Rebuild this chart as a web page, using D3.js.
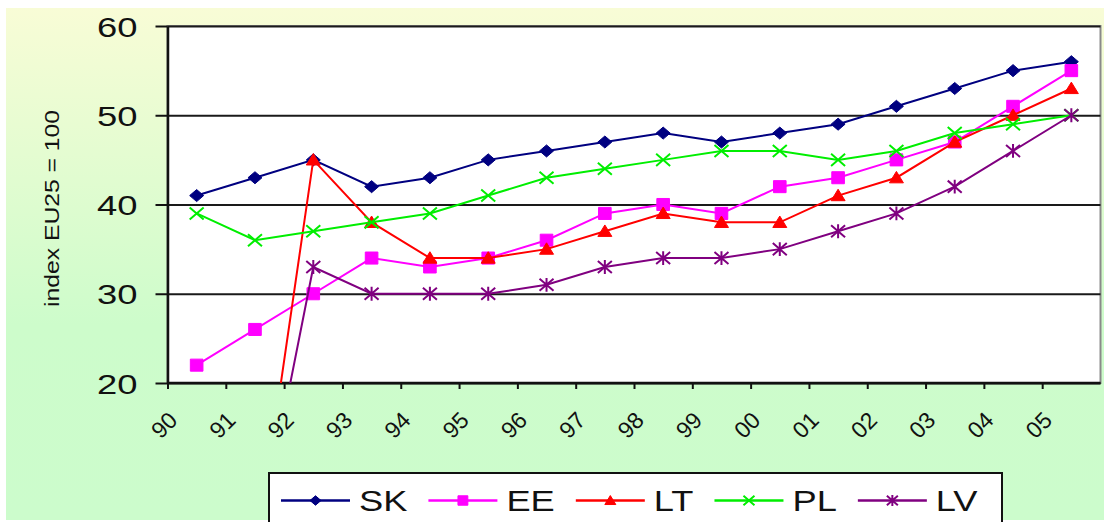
<!DOCTYPE html>
<html><head><meta charset="utf-8">
<script src="https://cdn.jsdelivr.net/npm/d3@7"></script>
<style>
body{margin:0;background:#fff;}
svg{display:block;font-family:"Liberation Sans",Arial,sans-serif;}
</style>
</head><body>
<svg id="c" width="1104" height="522"></svg>
<script>
// ---- data ----
const years = ["90","91","92","93","94","95","96","97","98","99","00","01","02","03","04","05"];
const SK = [41,43,45,42,43,45,46,47,48,47,48,49,51,53,55,56];
const EE = [22,26,30,34,33,34,36,39,40,39,42,43,45,47,51,55];
const LT = [0,0,45,38,34,34,35,37,39,38,38,41,43,47,50,53];
const PL = [39,36,37,38,39,41,43,44,45,46,46,45,46,48,49,50];
const LV = [0,0,33,30,30,30,31,33,34,34,35,37,39,42,46,50];
const seriesNames = ["SK","EE","LT","PL","LV"];
const seriesValues = [SK,EE,LT,PL,LV];
const seriesColors = ["#000080","#ff00ff","#ff0000","#00ee00","#800080"];
const seriesMarkers = ["diamond","square","triangle","cross","star"];
const yTicks = [20,30,40,50,60];
const yDomain = [20,60];
const yTitle = "index EU25 = 100";

// ---- layout ----
const svg = d3.select("#c");
const m = {left:167.5, right:1100.5, top:26, bottom:383};
const x = d3.scaleBand().domain(years).range([m.left, m.right]).padding(0);
const bw = x.bandwidth();
const xt = d3.scalePoint().domain(years).range([m.left, m.left + bw*(years.length-1)]);
const y = d3.scaleLinear().domain(yDomain).range([m.bottom, m.top]);

const defs = svg.append("defs");
const grad = defs.append("linearGradient").attr("id","bg").attr("x1",0).attr("y1",0).attr("x2",0).attr("y2",1);
grad.append("stop").attr("offset","0").attr("stop-color","#f8fcd6");
grad.append("stop").attr("offset","0.62").attr("stop-color","#cdfccb");
grad.append("stop").attr("offset","1").attr("stop-color","#ccfccc");
defs.append("clipPath").attr("id","clip").append("rect")
  .attr("x", m.left).attr("y", m.top).attr("width", m.right-m.left).attr("height", m.bottom-m.top);

svg.append("rect").attr("x",6).attr("y",8).attr("width",1098).attr("height",512).attr("fill","url(#bg)");

// plot area
svg.append("rect").attr("x",m.left).attr("y",m.top).attr("width",m.right-m.left).attr("height",m.bottom-m.top)
  .attr("fill","#fff").attr("stroke","#8a8a8a").attr("stroke-width",2);

// gridlines
const grid = svg.append("g").attr("transform",`translate(${m.left},0)`)
  .call(d3.axisLeft(y).tickValues(yTicks).tickSize(-(m.right-m.left)).tickFormat(""));
grid.select(".domain").remove();
grid.selectAll("line").attr("stroke","#1a1a1a").attr("stroke-width",2);

// y axis
const ya = svg.append("g").attr("transform",`translate(${m.left},0)`)
  .call(d3.axisLeft(y).tickValues(yTicks).tickSize(12).tickSizeOuter(0));
ya.select(".domain").attr("stroke","#111").attr("stroke-width",2.5);
ya.selectAll(".tick line").attr("stroke","#111").attr("stroke-width",2);
ya.selectAll(".tick text").attr("x",0).attr("dy","0.36em")
  .attr("transform","translate(-30,0) scale(1.3,1)")
  .attr("font-size",28).attr("fill","#111").attr("text-anchor","end")
  .style("font-family","'Liberation Sans',Arial,sans-serif");

// x axis
const xa = svg.append("g").attr("transform",`translate(0,${m.bottom})`)
  .call(d3.axisBottom(xt).tickSize(6).tickSizeOuter(0));
xa.select(".domain").remove();
xa.selectAll(".tick line").attr("stroke","#111").attr("stroke-width",2);
xa.selectAll(".tick text").attr("x",0).attr("y",0).attr("dy","0.35em")
  .attr("text-anchor","middle")
  .attr("transform","translate(-4,42) rotate(-45)")
  .attr("font-size",23).attr("fill","#111")
  .style("font-family","'Liberation Sans',Arial,sans-serif");
svg.append("line").attr("x1",m.left).attr("x2",m.right).attr("y1",m.bottom).attr("y2",m.bottom)
  .attr("stroke","#111").attr("stroke-width",2.5);

// y title
svg.append("text").attr("transform","translate(51,208.5) rotate(-90)")
  .attr("text-anchor","middle").attr("dominant-baseline","central")
  .attr("font-size",21).attr("fill","#111")
  .attr("textLength",197).attr("lengthAdjust","spacingAndGlyphs")
  .text(yTitle);

// markers
function markerPath(type, s){
  const a = s, b = s*0.86;
  switch(type){
    case "diamond": return `M0,${-b}L${a},0L0,${b}L${-a},0Z`;
    case "square": return `M${-a*0.9},${-b}H${a*0.9}V${b}H${-a*0.9}Z`;
    case "triangle": return `M0,${-b*1.05}L${a},${b*0.85}L${-a},${b*0.85}Z`;
    case "cross": return `M${-a},${-b}L${a},${b}M${-a},${b}L${a},${-b}`;
    case "star": return `M${-a},${-b}L${a},${b}M${-a},${b}L${a},${-b}M0,${-b*1.15}L0,${b*1.15}`;
  }
}
const filled = t => t==="diamond"||t==="square"||t==="triangle";

const line = d3.line().x((d,i)=>x(years[i])+bw/2).y(d=>y(d));
const plot = svg.append("g").attr("clip-path","url(#clip)");
seriesValues.forEach((vals,si)=>{
  const g = plot.append("g");
  const c = seriesColors[si], t = seriesMarkers[si];
  g.append("path").datum(vals).attr("d",line).attr("fill","none")
    .attr("stroke",c).attr("stroke-width",2);
  g.selectAll("path.mk").data(vals).join("path").attr("class","mk")
    .attr("transform",(d,i)=>`translate(${x(years[i])+bw/2},${y(d)})`)
    .attr("d",markerPath(t,7))
    .attr("fill",filled(t)?c:"none").attr("stroke",c).attr("stroke-width",filled(t)?1:2);
});

// legend
const lg = svg.append("g");
lg.append("rect").attr("x",269).attr("y",473).attr("width",733).attr("height",70)
  .attr("fill","#fff").attr("stroke","#111").attr("stroke-width",2);
let lx = 281;
const ly = 500.5;
seriesNames.forEach((name,si)=>{
  const c = seriesColors[si], t = seriesMarkers[si];
  lg.append("line").attr("x1",lx).attr("x2",lx+69).attr("y1",ly).attr("y2",ly)
    .attr("stroke",c).attr("stroke-width",2.5);
  lg.append("path").attr("transform",`translate(${lx+34.5},${ly})`)
    .attr("d",markerPath(t,5.5))
    .attr("fill",filled(t)?c:"none").attr("stroke",c).attr("stroke-width",filled(t)?1:2);
  const tx = lx+78;
  const txt = lg.append("text").attr("transform",`translate(${tx},${ly+10.5}) scale(1.21,1)`)
    .attr("font-size",30).attr("fill","#111").text(name);
  const w = txt.node().getComputedTextLength()*1.21;
  lx = tx + w + 21;
});
</script>
</body></html>
